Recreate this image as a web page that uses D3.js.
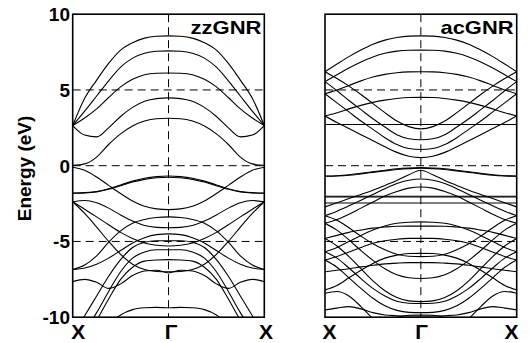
<!DOCTYPE html>
<html><head><meta charset="utf-8">
<script src="https://cdn.jsdelivr.net/npm/d3@7"></script>
<style>html,body{margin:0;background:#fff;} svg{display:block;}</style>
</head><body><svg id="chart" width="530" height="343"></svg>
<script>
// Sample points along the half path X -> Γ; each band is mirrored about Γ.
const kFrac = [0, 0.125, 0.25, 0.375, 0.5, 0.625, 0.75, 0.875, 1];
const kLabels = ["X", "Γ", "X"];
const energyTicks = [10, 5, 0, -5, -10];
const gridLevels = [5, 0, -5];
const panelTitles = ["zzGNR", "acGNR"];

// zigzag ribbon bands (eV) at kFrac
const zzBands = [
  [0.02, 0.12, 0.57, 1.4, 2.1, 2.62, 2.95, 3.1, 3.13],
  [2.65, 2.02, 1.9, 2.5, 3.25, 3.85, 4.25, 4.43, 4.48],
  [2.65, 3.15, 3.75, 4.5, 5.2, 5.7, 6.0, 6.1, 6.12],
  [2.65, 3.6, 4.6, 5.6, 6.5, 7.1, 7.42, 7.55, 7.58],
  [2.65, 4.45, 5.65, 6.75, 7.63, 8.12, 8.42, 8.54, 8.57],
  [-0.1, -0.3, -0.75, -1.3, -1.84, -2.33, -2.68, -2.85, -2.9],
  [-1.8, -1.78, -1.7, -1.52, -1.27, -1.02, -0.83, -0.72, -0.68],
  [-1.82, -1.8, -1.73, -1.56, -1.32, -1.08, -0.9, -0.8, -0.76],
  [-2.38, -2.3, -2.45, -2.8, -3.25, -3.65, -3.95, -4.07, -4.1],
  [-2.38, -2.87, -3.38, -3.9, -4.4, -4.8, -5.1, -5.25, -5.3],
  [-2.38, -3.15, -4.05, -5.0, -5.85, -6.5, -6.85, -6.98, -7.0],
  [-6.85, -6.55, -5.95, -5.05, -4.3, -3.8, -3.55, -3.42, -3.38],
  [-6.85, -6.75, -6.5, -6.1, -5.6, -5.1, -4.75, -4.55, -4.5],
  [-7.65, -7.5, -7.7, -8.1, -7.8, -7.25, -6.95, -6.9, -7.08],
  [-11.2, -9.9, -8.6, -7.3, -6.2, -5.4, -5.05, -4.95, -4.95],
  [-12, -10.9, -9.7, -8.3, -7.0, -6.1, -5.7, -5.55, -5.55],
  [-12.5, -11.4, -10.2, -8.8, -7.5, -6.7, -6.3, -6.22, -6.2],
  [-12, -11.6, -11.1, -10.5, -9.85, -9.5, -9.38, -9.35, -9.38]
];

// armchair ribbon bands (eV) at kFrac
const acBands = [
  [6.2, 6.71, 7.2, 7.63, 8.02, 8.29, 8.46, 8.55, 8.57],
  [5.55, 6.0, 6.45, 6.85, 7.18, 7.42, 7.56, 7.62, 7.63],
  [4.75, 5.0, 5.3, 5.6, 5.85, 6.03, 6.14, 6.19, 6.2],
  [3.28, 3.5, 3.75, 3.98, 4.18, 4.33, 4.44, 4.5, 4.51],
  [6.2, 5.75, 5.25, 4.7, 4.1, 3.5, 2.95, 2.58, 2.43],
  [5.55, 4.95, 4.3, 3.7, 3.1, 2.55, 2.05, 1.78, 1.71],
  [4.75, 4.15, 3.55, 2.95, 2.4, 1.85, 1.4, 1.13, 1.07],
  [3.28, 2.85, 2.45, 2.05, 1.65, 1.25, 0.88, 0.62, 0.53],
  [2.72, 2.72, 2.72, 2.72, 2.72, 2.72, 2.72, 2.72, 2.72],
  [-0.68, -0.66, -0.6, -0.5, -0.4, -0.3, -0.2, -0.15, -0.13],
  [-0.7, -0.68, -0.63, -0.54, -0.44, -0.34, -0.25, -0.19, -0.17],
  [-2.72, -2.45, -2.17, -1.9, -1.62, -1.3, -0.97, -0.6, -0.3],
  [-3.3, -3.0, -2.65, -2.28, -1.9, -1.52, -1.18, -0.96, -0.88],
  [-3.8, -3.55, -3.2, -2.8, -2.4, -2.0, -1.7, -1.48, -1.41],
  [-2.02, -2.02, -2.02, -2.02, -2.02, -2.02, -2.02, -2.02, -2.02],
  [-2.07, -2.07, -2.07, -2.07, -2.07, -2.07, -2.07, -2.07, -2.07],
  [-2.46, -2.46, -2.46, -2.46, -2.46, -2.46, -2.46, -2.46, -2.46],
  [-3.3, -3.6, -4.1, -4.65, -5.15, -5.55, -5.85, -5.98, -6.0],
  [-3.8, -4.25, -4.9, -5.6, -6.25, -6.8, -7.2, -7.4, -7.45],
  [-4.8, -5.3, -6.0, -6.8, -7.6, -8.25, -8.7, -8.92, -8.97],
  [-5.68, -6.1, -6.75, -7.45, -8.1, -8.6, -8.95, -9.08, -9.1],
  [-5.68, -5.4, -5.0, -4.6, -4.25, -3.98, -3.8, -3.73, -3.71],
  [-6.23, -6.0, -5.7, -5.4, -5.12, -4.95, -4.85, -4.8, -4.8],
  [-4.8, -4.6, -4.4, -4.25, -4.12, -4.05, -4.0, -3.99, -3.99],
  [-6.23, -6.7, -7.4, -8.1, -8.75, -9.25, -9.55, -9.68, -9.7],
  [-7.0, -6.9, -6.8, -6.68, -6.57, -6.48, -6.43, -6.4, -6.4],
  [-8.2, -7.9, -7.4, -6.9, -6.45, -6.1, -5.9, -5.8, -5.79],
  [-8.42, -8.3, -8.6, -9.3, -10.1, -10.8, -11.2, -11.4, -11.4],
  [-9.52, -9.4, -9.3, -9.45, -9.7, -9.85, -9.9, -9.92, -9.92],
  [-12, -12, -11.8, -11.3, -10.8, -10.3, -10.0, -9.87, -9.85]
];

const svg = d3.select("#chart");
const W = 530, H = 343;
svg.append("rect").attr("width", W).attr("height", H).attr("fill", "#fff");

const font = "'Liberation Sans', Arial, Helvetica, sans-serif";
const y = d3.scaleLinear().domain([-10, 10]).range([317.2, 14.2]);

const panels = [
  { title: panelTitles[0], bands: zzBands, x0: 72.7, x1: 264.3, labelX: [78.3, 171, 266], titleRight: 261.5, showY: true },
  { title: panelTitles[1], bands: acBands, x0: 325, x1: 516.7, labelX: [329.5, 421.5, 511.5], titleRight: 513.5, showY: false }
];

// full path: X -> Γ -> X, using mirrored values
function fullPath(vals) {
  const pts = kFrac.map((k, i) => [k, vals[i]]);
  for (let i = kFrac.length - 2; i >= 0; i--) pts.push([2 - kFrac[i], vals[i]]);
  return pts;
}

panels.forEach((p, pi) => {
  const x = d3.scaleLinear().domain([0, 2]).range([p.x0, p.x1]);
  const g = svg.append("g");
  const clipId = "clip" + pi;
  svg.append("clipPath").attr("id", clipId)
    .append("rect").attr("x", p.x0).attr("y", y(10)).attr("width", p.x1 - p.x0).attr("height", y(-10) - y(10));

  // dashed reference lines
  g.selectAll("line.h").data(gridLevels).join("line")
    .attr("x1", p.x0).attr("x2", p.x1)
    .attr("y1", d => y(d)).attr("y2", d => y(d))
    .attr("stroke", "#000").attr("stroke-width", 1).attr("stroke-dasharray", "8,5");
  g.append("line")
    .attr("x1", x(1)).attr("x2", x(1)).attr("y1", y(10)).attr("y2", y(-10))
    .attr("stroke", "#000").attr("stroke-width", 1).attr("stroke-dasharray", "8,5");

  const line = d3.line().x(d => x(d[0])).y(d => y(d[1])).curve(d3.curveMonotoneX);
  g.append("g").attr("clip-path", `url(#${clipId})`)
    .selectAll("path").data(p.bands).join("path")
    .attr("d", d => line(fullPath(d)))
    .attr("fill", "none").attr("stroke", "#000").attr("stroke-width", 1.1);

  // frame
  g.append("rect").attr("x", p.x0).attr("y", y(10)).attr("width", p.x1 - p.x0).attr("height", y(-10) - y(10))
    .attr("fill", "none").attr("stroke", "#000").attr("stroke-width", 1.6);

  // title
  g.append("text").attr("x", p.titleRight).attr("y", 34).attr("text-anchor", "end")
    .attr("font-family", font).attr("font-weight", "bold").attr("font-size", 19)
    .attr("textLength", pi === 0 ? 71 : 73).attr("lengthAdjust", "spacingAndGlyphs")
    .text(p.title);

  // k-point labels
  g.selectAll("text.k").data(kLabels).join("text")
    .attr("x", (d, i) => p.labelX[i]).attr("y", 338.5).attr("text-anchor", "middle")
    .attr("font-family", font).attr("font-weight", "bold").attr("font-size", 21)
    .text(d => d);

  if (p.showY) {
    g.selectAll("text.e").data(energyTicks).join("text")
      .attr("x", 70).attr("y", d => y(d) + 6.8).attr("text-anchor", "end")
      .attr("font-family", font).attr("font-weight", "bold").attr("font-size", 19)
      .text(d => d);
  }
});

svg.append("text")
  .attr("transform", "translate(31,168.5) rotate(-90)")
  .attr("text-anchor", "middle")
  .attr("font-family", font).attr("font-weight", "bold").attr("font-size", 19)
  .text("Energy (eV)");
</script>
</body></html>
